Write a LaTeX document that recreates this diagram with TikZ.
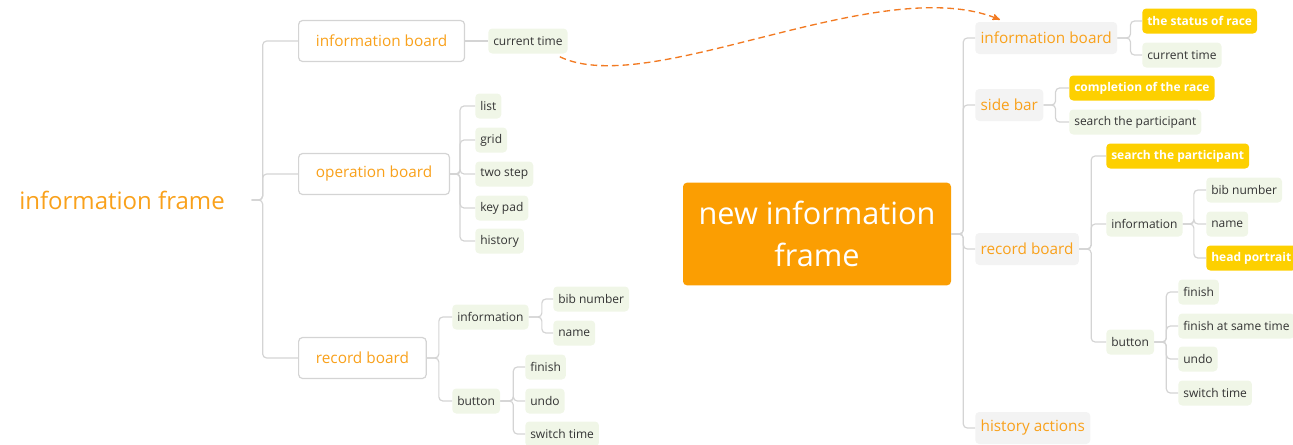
\documentclass[tikz,border=0pt]{standalone}
\usepackage{fontspec}
\setmainfont{Open Sans}
\usetikzlibrary{arrows,positioning}
\definecolor{mmorange}{HTML}{F9A11B}
\definecolor{rootorange}{HTML}{FB9E02}
\definecolor{hotyellow}{HTML}{FDD000}
\definecolor{leafgreen}{HTML}{F0F6E7}
\definecolor{topicgray}{HTML}{F3F3F3}
\definecolor{linegray}{HTML}{D4D4D4}
\definecolor{leaftext}{HTML}{333333}
\definecolor{jumporange}{HTML}{F27A22}
\tikzset{>=stealth'}
\tikzset{
    oldroot/.style={text=mmorange,inner sep=0pt,font=\fontsize{18}{20}\selectfont},
    newroot/.style={fill=rootorange,text=white,rounded corners=3pt,align=center,
        minimum width=201pt,minimum height=77pt,font=\fontsize{23}{31.5}\selectfont},
    board/.style={draw=linegray,line width=0.9pt,fill=white,rounded corners=3pt,text=mmorange,
        inner xsep=13pt,minimum height=30.75pt,anchor=west,font=\fontsize{11.5}{13}\selectfont},
    topic/.style={fill=topicgray,rounded corners=3pt,text=mmorange,inner xsep=4pt,
        minimum height=24pt,anchor=west,font=\fontsize{11.5}{13}\selectfont},
    leaf/.style={fill=leafgreen,rounded corners=3pt,text=leaftext,inner xsep=3.75pt,
        minimum height=18.75pt,anchor=west,font=\fontsize{9}{10}\selectfont},
    hot/.style={leaf,fill=hotyellow,text=white,font=\fontsize{9}{10}\bfseries\selectfont},
    link/.style={draw=linegray,line width=0.9pt,rounded corners=3pt},
    jump/.style={draw=jumporange,line width=1pt,dash pattern=on 5pt off 3pt,->}
}

\begin{document}
\begin{tikzpicture}[x=0.75pt,y=-0.75pt]
    \useasboundingbox (0,0) rectangle (1293,444);

    \node[oldroot] (f) at (122,200) {information frame};
    \node[board] (ib) at (298,41)  {information board};
    \node[board] (ob) at (298,174) {operation board};
    \node[board] (rb) at (298,358) {record board};
    \node[leaf] (ct)      at (488,41)  {current time};
    \node[leaf] (list)    at (475,106) {list};
    \node[leaf] (grid)    at (475,140) {grid};
    \node[leaf] (twostep) at (475,174) {two step};
    \node[leaf] (keypad)  at (475,208) {key pad};
    \node[leaf] (history) at (475,241) {history};
    \node[leaf] (info)    at (452,317) {information};
    \node[leaf] (btn)     at (452,401) {button};
    \node[leaf] (bib)     at (553,299) {bib number};
    \node[leaf] (name)    at (553,333) {name};
    \node[leaf] (finish)  at (525,367) {finish};
    \node[leaf] (undo)    at (525,401) {undo};
    \node[leaf] (switch)  at (525,434) {switch time};

    \foreach \n in {ib,ob,rb}
        \draw[link] ([xshift=20pt]f.east) -- ++(11,0) |- (\n.west);
    \draw[link] (ib) -- (ct);
    \foreach \n in {list,grid,twostep,keypad,history}
        \draw[link] (ob.east) -- ++(10,0) |- (\n.west);
    \foreach \n in {info,btn}
        \draw[link] (rb.east) -- ++(12,0) |- (\n.west);
    \foreach \n in {bib,name}
        \draw[link] (info.east) -- ++(13,0) |- (\n.west);
    \foreach \n in {finish,undo,switch}
        \draw[link] (btn.east) -- ++(13,0) |- (\n.west);

    \node[newroot] (nf) at (817,234) {new information\\frame};
    \node[topic] (nib) at (975,38)  {information board};
    \node[topic] (nsb) at (975,105) {side bar};
    \node[topic] (nrb) at (975,249) {record board};
    \node[topic] (nha) at (975,428) {history actions};
    \node[hot]  (status)   at (1142,21)  {the status of race};
    \node[leaf] (nct)      at (1142,55)  {current time};
    \node[hot]  (done)     at (1069,88)  {completion of the race};
    \node[leaf] (sbsearch) at (1069,122) {search the participant};
    \node[hot]  (rbsearch) at (1106,156) {search the participant};
    \node[leaf] (ninfo)    at (1106,224) {information};
    \node[leaf] (nbtn)     at (1106,342) {button};
    \node[leaf] (nbib)     at (1206,190) {bib number};
    \node[leaf] (nname)    at (1206,224) {name};
    \node[hot]  (portrait) at (1206,258) {head portrait};
    \node[leaf] (nfinish)  at (1178,292) {finish};
    \node[leaf] (nsame)    at (1178,326) {finish at same time};
    \node[leaf] (nundo)    at (1178,359) {undo};
    \node[leaf] (nswitch)  at (1178,393) {switch time};

    \foreach \n in {nib,nsb,nrb,nha}
        \draw[link] (nf.east) -- ++(12,0) |- (\n.west);
    \foreach \n in {status,nct}
        \draw[link] (nib.east) -- ++(13,0) |- (\n.west);
    \foreach \n in {done,sbsearch}
        \draw[link] (nsb.east) -- ++(12,0) |- (\n.west);
    \foreach \n in {rbsearch,ninfo,nbtn}
        \draw[link] (nrb.east) -- ++(12,0) |- (\n.west);
    \foreach \n in {nbib,nname,portrait}
        \draw[link] (ninfo.east) -- ++(11,0) |- (\n.west);
    \foreach \n in {nfinish,nsame,nundo,nswitch}
        \draw[link] (nbtn.east) -- ++(12,0) |- (\n.west);

    \draw[jump] ([shift={(-8,3)}]ct.south east) .. controls (650,100) and (880,-30) .. ([shift={(25,-2)}]nib.north west);
\end{tikzpicture}
\end{document}
